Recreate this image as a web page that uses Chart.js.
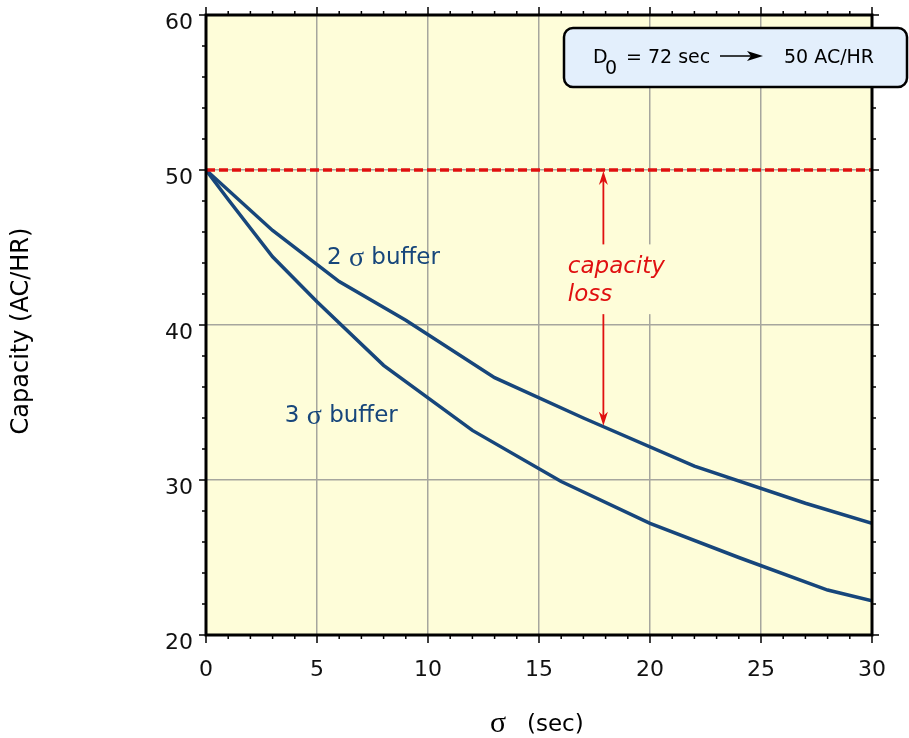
<!DOCTYPE html>
<html>
<head>
<meta charset="utf-8">
<script src="https://cdn.jsdelivr.net/npm/chart.js@4.4.1/dist/chart.umd.min.js"></script>
<style>
  html, body { margin: 0; padding: 0; background: #fff; }
  #wrap { width: 909px; height: 738px; }
</style>
</head>
<body>
<div id="wrap"><canvas id="chart"></canvas></div>
<script>
// values
const sigma2X = [0, 3, 6, 9, 13, 17, 22, 27, 30];
const sigma2Cap = [50, 46.1, 42.8, 40.3, 36.6, 34.0, 30.9, 28.5, 27.2];
const sigma3X = [0, 1, 3, 5, 8, 12, 16, 20, 24, 28, 30];
const sigma3Cap = [50, 48.1, 44.4, 41.5, 37.4, 33.2, 29.9, 27.2, 25.0, 22.9, 22.2];
const baseX = [0, 30];
const baseCap = [50, 50];
const xRange = [0, 30];
const yRange = [20, 60];
const xStep = 5, yStep = 10;

const NAVY = '#17467b';
const RED = '#e01010';
const SANS = '"DejaVu Sans", Verdana, sans-serif';
const SERIF = '"Liberation Serif", "DejaVu Serif", serif';

const toPoints = (xs, ys) => xs.map((x, i) => ({ x: x, y: ys[i] }));

// capacity of the 2 sigma curve at a given sigma (for the arrow tip)
const sigma2At = (x) => {
  for (let i = 1; i < sigma2X.length; i++) {
    if (x <= sigma2X[i]) {
      const t = (x - sigma2X[i - 1]) / (sigma2X[i] - sigma2X[i - 1]);
      return sigma2Cap[i - 1] + t * (sigma2Cap[i] - sigma2Cap[i - 1]);
    }
  }
  return sigma2Cap[sigma2Cap.length - 1];
};

// draw a run of [text, font] pieces left to right
const drawRuns = (ctx, runs, x, y, color) => {
  ctx.fillStyle = color;
  ctx.textBaseline = 'middle';
  ctx.textAlign = 'left';
  runs.forEach(([text, font]) => {
    ctx.font = font;
    ctx.fillText(text, x, y);
    x += ctx.measureText(text).width;
  });
};

const arrowHead = (ctx, x, y, dir, size, width) => {
  ctx.beginPath();
  ctx.moveTo(x, y);
  ctx.lineTo(x - width / 2, y - dir * size);
  ctx.lineTo(x, y - dir * size * 0.7);
  ctx.lineTo(x + width / 2, y - dir * size);
  ctx.closePath();
  ctx.fill();
};

const decor = {
  id: 'decor',
  beforeDraw(chart) {
    const { ctx, chartArea: a } = chart;
    ctx.save();
    ctx.fillStyle = '#fefdd9';
    ctx.fillRect(a.left, a.top, a.right - a.left, a.bottom - a.top);
    ctx.restore();
  },
  afterDraw(chart) {
    const { ctx, chartArea: a } = chart;
    const xs = chart.scales.x, ys = chart.scales.y;
    ctx.save();

    // frame and ticks on four sides
    ctx.strokeStyle = '#000';
    ctx.lineWidth = 1.5;
    for (let v = xRange[0]; v <= xRange[1]; v++) {
      const px = xs.getPixelForValue(v);
      const len = v % xStep === 0 ? 8 : 4;
      ctx.beginPath();
      ctx.moveTo(px, a.bottom); ctx.lineTo(px, a.bottom + len);
      ctx.moveTo(px, a.top); ctx.lineTo(px, a.top - len);
      ctx.stroke();
    }
    for (let v = yRange[0]; v <= yRange[1]; v += 2) {
      const py = ys.getPixelForValue(v);
      const len = v % yStep === 0 ? 7 : 4;
      ctx.beginPath();
      ctx.moveTo(a.left, py); ctx.lineTo(a.left - len, py);
      ctx.moveTo(a.right, py); ctx.lineTo(a.right + len, py);
      ctx.stroke();
    }
    ctx.lineWidth = 3;
    ctx.strokeRect(a.left, a.top, a.right - a.left, a.bottom - a.top);

    // capacity loss arrow
    const ax = xs.getPixelForValue(17.9);
    const yTop = ys.getPixelForValue(50) + 1;
    const yTip = ys.getPixelForValue(sigma2At(17.9)) - 1;
    ctx.strokeStyle = RED;
    ctx.fillStyle = RED;
    ctx.lineWidth = 1.8;
    ctx.beginPath();
    ctx.moveTo(ax, yTop + 8); ctx.lineTo(ax, yTip - 8);
    ctx.stroke();
    arrowHead(ctx, ax, yTop, -1, 14, 9);
    arrowHead(ctx, ax, yTip, 1, 14, 9);

    // text patch hiding grid and arrow behind "capacity loss"
    const cx0 = xs.getPixelForValue(15.9), cx1 = xs.getPixelForValue(21.1);
    const cy0 = ys.getPixelForValue(45.2), cy1 = ys.getPixelForValue(40.7);
    ctx.fillStyle = '#fefdd9';
    ctx.fillRect(cx0, cy0, cx1 - cx0, cy1 - cy0);
    const italic = 'italic 23px ' + SANS;
    drawRuns(ctx, [['capacity', italic]], xs.getPixelForValue(16.3), ys.getPixelForValue(43.75), RED);
    drawRuns(ctx, [['loss', italic]], xs.getPixelForValue(16.3), ys.getPixelForValue(41.95), RED);

    // curve labels
    const lbl = '23px ' + SANS, sig = '28px ' + SERIF;
    drawRuns(ctx, [['2 ', lbl], ['σ', sig], [' buffer', lbl]], xs.getPixelForValue(5.45), ys.getPixelForValue(44.3), NAVY);
    drawRuns(ctx, [['3 ', lbl], ['σ', sig], [' buffer', lbl]], xs.getPixelForValue(3.55), ys.getPixelForValue(34.1), NAVY);

    // D0 box
    const bx = 564, by = 28, bw = 343, bh = 59;
    ctx.beginPath();
    ctx.roundRect(bx, by, bw, bh, 9);
    ctx.fillStyle = '#e3effc';
    ctx.fill();
    ctx.strokeStyle = '#000';
    ctx.lineWidth = 2.5;
    ctx.stroke();
    ctx.fillStyle = '#000';
    ctx.textBaseline = 'alphabetic';
    ctx.textAlign = 'left';
    ctx.font = '19px ' + SANS;
    ctx.fillText('D', 593, 63);
    ctx.fillText('0', 605, 74);
    ctx.fillText('= 72 sec', 626, 63);
    ctx.fillText('50 AC/HR', 784, 63);
    ctx.lineWidth = 1.5;
    ctx.beginPath();
    ctx.moveTo(720, 56); ctx.lineTo(752, 56);
    ctx.stroke();
    ctx.beginPath();
    ctx.moveTo(763, 56); ctx.lineTo(747, 51); ctx.lineTo(751, 56); ctx.lineTo(747, 61);
    ctx.closePath();
    ctx.fill();

    // axis titles
    ctx.save();
    ctx.translate(22, (a.top + a.bottom) / 2 + 6);
    ctx.rotate(-Math.PI / 2);
    ctx.font = '24px ' + SANS;
    ctx.textAlign = 'center';
    ctx.textBaseline = 'middle';
    ctx.fillText('Capacity (AC/HR)', 0, 0);
    ctx.restore();

    drawRuns(ctx, [['σ', '30px ' + SERIF]], 490, 724, '#000');
    drawRuns(ctx, [['(sec)', '23px ' + SANS]], 527, 725, '#000');

    ctx.restore();
  }
};

new Chart(document.getElementById('chart'), {
  type: 'scatter',
  data: {
    datasets: [
      {
        label: 'no buffer',
        data: toPoints(baseX, baseCap),
        showLine: true,
        borderColor: RED,
        borderWidth: 3.5,
        borderDash: [9, 4],
        pointRadius: 0
      },
      {
        label: '2 σ buffer',
        data: toPoints(sigma2X, sigma2Cap),
        showLine: true,
        borderColor: NAVY,
        borderWidth: 3.5,
        pointRadius: 0
      },
      {
        label: '3 σ buffer',
        data: toPoints(sigma3X, sigma3Cap),
        showLine: true,
        borderColor: NAVY,
        borderWidth: 3.5,
        pointRadius: 0
      }
    ]
  },
  options: {
    responsive: true,
    maintainAspectRatio: false,
    animation: false,
    layout: { padding: { left: 0, right: 37, top: 15, bottom: 0 } },
    plugins: {
      legend: { display: false },
      tooltip: { enabled: false }
    },
    scales: {
      x: {
        type: 'linear',
        min: xRange[0],
        max: xRange[1],
        border: { display: false },
        grid: { color: '#a6a69e', lineWidth: 1.5, drawTicks: false },
        ticks: { stepSize: xStep, padding: 22, color: '#111', font: { family: SANS, size: 22 } },
        afterFit: (scale) => { scale.height = 103; scale.paddingLeft = 0; scale.paddingRight = 0; }
      },
      y: {
        min: yRange[0],
        max: yRange[1],
        border: { display: false },
        grid: { color: '#a6a69e', lineWidth: 1.5, drawTicks: false },
        ticks: { stepSize: yStep, padding: 13, labelOffset: 8, color: '#111', font: { family: SANS, size: 22 } },
        afterFit: (scale) => { scale.width = 206; scale.paddingTop = 0; scale.paddingBottom = 0; }
      }
    }
  },
  plugins: [decor]
});
</script>
</body>
</html>
